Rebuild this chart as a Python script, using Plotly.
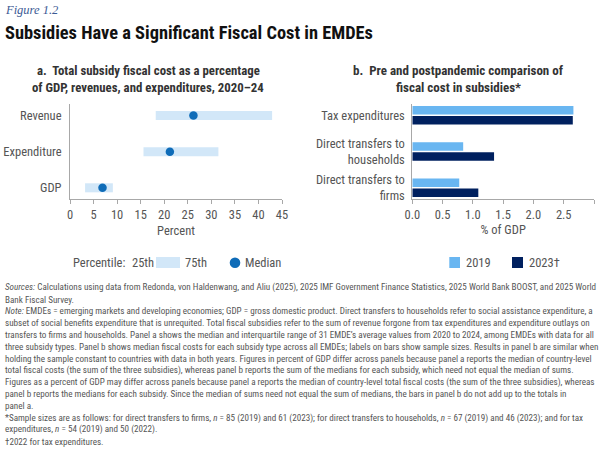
import plotly.graph_objects as go

W, H = 600, 450
SANS = "Roboto Condensed, Roboto, sans-serif"
GREY_TXT = "#555555"
AXIS = "#a8a8a8"
BAND = "#d2e7f8"
MEDIAN_C = "#0f6cb8"
C_2019 = "#69b6f1"
C_2023 = "#00205f"

# Panel a: interquartile range and median, percent
measures = ["GDP", "Expenditure", "Revenue"]
p25 = [3.2, 15.6, 18.2]
p75 = [9.1, 31.5, 42.9]
medians = [6.9, 21.2, 26.2]

# Panel b: median fiscal cost by subsidy type, % of GDP
subsidy_types = ["Direct transfers to<br>firms", "Direct transfers to<br>households", "Tax expenditures"]
cost_2019 = [0.775, 0.84, 2.66]
cost_2023 = [1.09, 1.35, 2.65]

ticks_a = [0, 5, 10, 15, 20, 25, 30, 35, 40, 45]
ticks_b = [0.0, 0.5, 1.0, 1.5, 2.0, 2.5, 3.0]

figure_label = "Figure 1.2"
figure_title = "Subsidies Have a Significant Fiscal Cost in EMDEs"
panel_a_title = ["a.  Total subsidy fiscal cost as a percentage", "of GDP, revenues, and expenditures, 2020–24"]
panel_b_title = ["b.  Pre and postpandemic comparison of", "fiscal cost in subsidies*"]

footnotes = [
    "<i>Sources:</i> Calculations using data from Redonda, von Haldenwang, and Aliu (2025), 2025 IMF Government Finance Statistics, 2025 World Bank BOOST, and 2025 World",
    "Bank Fiscal Survey.",
    "<i>Note:</i> EMDEs = emerging markets and developing economies; GDP = gross domestic product. Direct transfers to households refer to social assistance expenditure, a",
    "subset of social benefits expenditure that is unrequited. Total fiscal subsidies refer to the sum of revenue forgone from tax expenditures and expenditure outlays on",
    "transfers to firms and households. Panel a shows the median and interquartile range of 31 EMDE’s average values from 2020 to 2024, among EMDEs with data for all",
    "three subsidy types. Panel b shows median fiscal costs for each subsidy type across all EMDEs; labels on bars show sample sizes. Results in panel b are similar when",
    "holding the sample constant to countries with data in both years. Figures in percent of GDP differ across panels because panel a reports the median of country-level",
    "total fiscal costs (the sum of the three subsidies), whereas panel b reports the sum of the medians for each subsidy, which need not equal the median of sums.",
    "Figures as a percent of GDP may differ across panels because panel a reports the median of country-level total fiscal costs (the sum of the three subsidies), whereas",
    "panel b reports the medians for each subsidy. Since the median of sums need not equal the sum of medians, the bars in panel b do not add up to the totals in",
    "panel a.",
    "*Sample sizes are as follows: for direct transfers to firms, <i>n</i> = 85 (2019) and 61 (2023); for direct transfers to households, <i>n</i> = 67 (2019) and 46 (2023); and for tax",
    "expenditures, <i>n</i> = 54 (2019) and 50 (2022).",
    "†2022 for tax expenditures.",
]


def fx(px):
    return px / W


def fy(px):
    return 1 - px / H


def label(x, y, text, size=12, color=GREY_TXT, anchor="left", family=SANS):
    return dict(
        x=fx(x), y=fy(y), xref="paper", yref="paper", text=text, showarrow=False,
        xanchor=anchor, yanchor="middle", align=anchor, borderpad=0,
        font=dict(size=size, color=color, family=family),
    )


def swatch(x0, y0, x1, y1, color, kind="rect"):
    return dict(
        type=kind, xref="paper", yref="paper", x0=fx(x0), x1=fx(x1), y0=fy(y1), y1=fy(y0),
        fillcolor=color, line=dict(width=0),
    )


fig = go.Figure()

fig.add_trace(go.Bar(
    y=measures, x=[hi - lo for lo, hi in zip(p25, p75)], base=p25, orientation="h",
    marker=dict(color=BAND, line=dict(width=0)), width=0.25,
    xaxis="x", yaxis="y", showlegend=False, name="25th–75th percentile",
))
fig.add_trace(go.Scatter(
    y=measures, x=medians, mode="markers",
    marker=dict(color=MEDIAN_C, size=8.5), xaxis="x", yaxis="y", showlegend=False, name="Median",
))
# Plotly stacks grouped horizontal bars upward, so 2023 goes first to sit below 2019
fig.add_trace(go.Bar(
    y=subsidy_types, x=cost_2023, orientation="h", marker=dict(color=C_2023, line=dict(width=0)),
    xaxis="x2", yaxis="y2", showlegend=False, name="2023†",
))
fig.add_trace(go.Bar(
    y=subsidy_types, x=cost_2019, orientation="h", marker=dict(color=C_2019, line=dict(width=0)),
    xaxis="x2", yaxis="y2", showlegend=False, name="2019",
))

axis_common = dict(
    automargin=False, showgrid=False, zeroline=False, showline=True, linecolor=AXIS, linewidth=1,
    tickfont=dict(size=12.5, color=GREY_TXT, family=SANS),
)

annotations = [
    label(4, 10, f"<i>{figure_label}</i>", size=12.5, color="#3b5a94", family="Liberation Serif, serif"),
    label(4, 32, f"<b>{figure_title}</b>", size=18.4, color="#111111"),
    label(148.4, 70, f"<b>{panel_a_title[0]}</b>", size=12.8, color="#333333", anchor="center"),
    label(148.4, 87, f"<b>{panel_a_title[1]}</b>", size=12.8, color="#333333", anchor="center"),
    label(458, 70, f"<b>{panel_b_title[0]}</b>", size=13, color="#333333", anchor="center"),
    label(458, 87, f"<b>{panel_b_title[1]}</b>", size=13, color="#333333", anchor="center"),
    label(71.7, 262.7, "Percentile:", size=12.5),
    label(130.7, 262.7, "25th", size=12.5),
    label(184, 262.7, "75th", size=12.5),
    label(244.3, 262.7, "Median", size=12.5),
    label(465, 262.7, "2019", size=12.5),
    label(527.7, 262.7, "2023†", size=12.5),
]
for i, line in enumerate(footnotes):
    annotations.append(label(4, 287.7 + i * 11.85, line, size=9.1, color="#555555"))

shapes = [
    swatch(156, 257, 180, 268, BAND),
    swatch(229.7, 257.4, 240.3, 268, MEDIAN_C, kind="circle"),
    swatch(449.3, 257, 460, 268, C_2019),
    swatch(512, 257, 523, 268, C_2023),
]

fig.update_layout(
    width=W, height=H, autosize=False,
    margin=dict(l=0, r=0, t=0, b=0),
    paper_bgcolor="white", plot_bgcolor="white",
    barmode="group", bargap=0.447, bargroupgap=0.15,
    xaxis=dict(
        **axis_common, domain=[fx(70), fx(282)], range=[0, 45], tickvals=ticks_a,
        ticks="outside", ticklen=4, tickcolor=AXIS, anchor="y",
        title=dict(text="Percent", font=dict(size=12.5, color=GREY_TXT, family=SANS), standoff=5),
    ),
    yaxis=dict(
        **axis_common, domain=[fy(199), fy(104)], range=[-0.31, 2.32], type="category",
        categoryorder="array", categoryarray=measures, ticks="outside", ticklen=5,
        tickcolor="rgba(0,0,0,0)", anchor="x",
    ),
    xaxis2=dict(
        **axis_common, domain=[fx(412.3), fx(594)], range=[0, 3], tickvals=ticks_b, tickformat=".1f",
        ticks="outside", ticklen=4, tickcolor=AXIS, anchor="y2",
        title=dict(text="% of GDP", font=dict(size=12.5, color=GREY_TXT, family=SANS), standoff=4),
    ),
    yaxis2=dict(
        **axis_common, domain=[fy(198.5), fy(104)], range=[-0.3, 2.31], type="category",
        categoryorder="array", categoryarray=subsidy_types, ticks="outside", ticklen=4,
        tickcolor="rgba(0,0,0,0)", anchor="x2",
    ),
    annotations=annotations,
    shapes=shapes,
)

fig.write_html("out.html")
